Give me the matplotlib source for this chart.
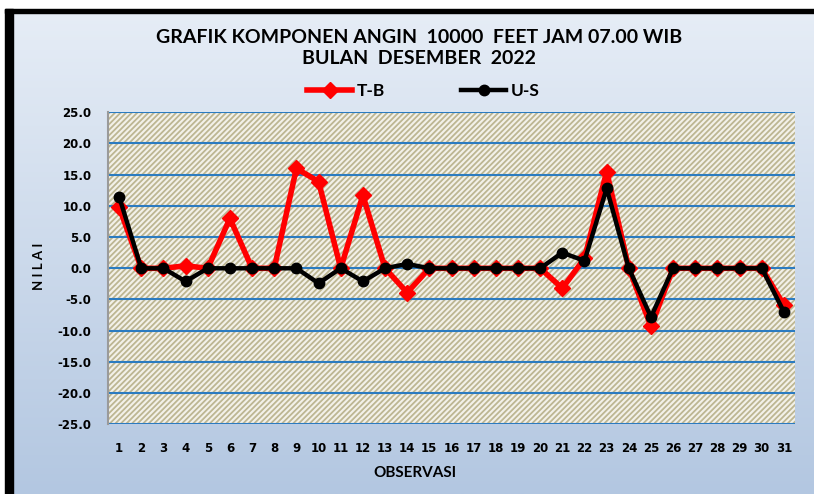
import numpy as np
import matplotlib.pyplot as plt
from matplotlib.patches import Rectangle
from matplotlib.colors import LinearSegmentedColormap

# data
obs = list(range(1, 32))
tb = [9.8, 0, 0, 0.4, 0, 8.0, 0, 0, 16.0, 13.9, 0, 11.7, 0, -3.9, 0, 0,
      0, 0, 0, 0, -3.2, 1.6, 15.5, 0, -9.3, 0, 0, 0, 0, 0, -5.9]
us = [11.5, 0, 0, -2.1, 0, 0, 0, 0, 0, -2.4, 0, -2.1, 0, 0.7, 0, 0,
      0, 0, 0, 0, 2.5, 1.2, 12.8, 0, -7.8, 0, 0, 0, 0, 0, -7.0]
yticks = [-25, -20, -15, -10, -5, 0, 5, 10, 15, 20, 25]

plt.rcParams['hatch.color'] = '#bdb692'
plt.rcParams['hatch.linewidth'] = 1.3

fig = plt.figure(figsize=(8.14, 4.94), dpi=100)
fig.patch.set_facecolor('white')

# background with gradient and black frame
bg = fig.add_axes([0, 0, 1, 1])
bg.set_xlim(0, 814)
bg.set_ylim(494, 0)
bg.axis('off')
grad = np.linspace(0, 1, 256).reshape(-1, 1)
cmap = LinearSegmentedColormap.from_list('bgc', ['#e6edf6', '#b3c7e1'])
bg.imshow(grad, cmap=cmap, aspect='auto', extent=(8, 814, 494, 12))
bg.add_patch(Rectangle((5, 9), 809, 4, color='black'))
bg.add_patch(Rectangle((5, 9), 8, 485, color='black'))

ax = fig.add_axes([0.1327, 0.1411, 0.844, 0.6316])
ax.patch.set_facecolor('#f3f1e9')
ax.patch.set_hatch('//////')
ax.patch.set_edgecolor('#bdb692')
ax.patch.set_linewidth(0)

for v in yticks:
    ax.axhline(v, color='#2b7bc0', lw=1.5, zorder=1)

ax.plot(obs, tb, color='#ff0000', lw=4, marker='D', markersize=8,
        label='T-B', zorder=3)
ax.plot(obs, us, color='black', lw=3.2, marker='o', markersize=7.5,
        label='U-S', zorder=4)

ax.set_xlim(0.5, 31.5)
ax.set_ylim(-25, 25)
ax.set_xticks(obs)
ax.set_yticks(yticks)
ax.set_yticklabels([f'{v:.1f}' for v in yticks])
ax.tick_params(length=0, labelsize=8.5)
ax.tick_params(axis='x', pad=13)
ax.tick_params(axis='y', pad=12)
for lab in ax.get_xticklabels() + ax.get_yticklabels():
    lab.set_fontweight('bold')

for s in ['top', 'right', 'bottom']:
    ax.spines[s].set_visible(False)
ax.spines['left'].set_color('#9a9a9a')
ax.spines['left'].set_linewidth(1.5)

ax.set_xlabel('OBSERVASI', fontsize=11, fontweight='bold', family='Lato')
ax.xaxis.set_label_coords(0.447, -0.135)
ax.set_ylabel('N I L A I', fontsize=9.5, fontweight='bold', family='Lato')
ax.yaxis.set_label_coords(-0.092, 0.505)

fig.text(0.515, 0.924, 'GRAFIK KOMPONEN ANGIN  10000  FEET JAM 07.00 WIB',
         ha='center', va='center', fontsize=14, fontweight='bold',
         family='Lato')
fig.text(0.515, 0.882, 'BULAN  DESEMBER  2022', ha='center', va='center',
         fontsize=14, fontweight='bold', family='Lato')

fig.legend(loc='center', bbox_to_anchor=(0.52, 0.815), ncol=2,
           frameon=False, handlelength=2.6, columnspacing=4.4,
           handletextpad=0.25,
           prop={'family': 'Lato', 'weight': 'bold', 'size': 12.5})

fig.savefig('out.png', dpi=100)
